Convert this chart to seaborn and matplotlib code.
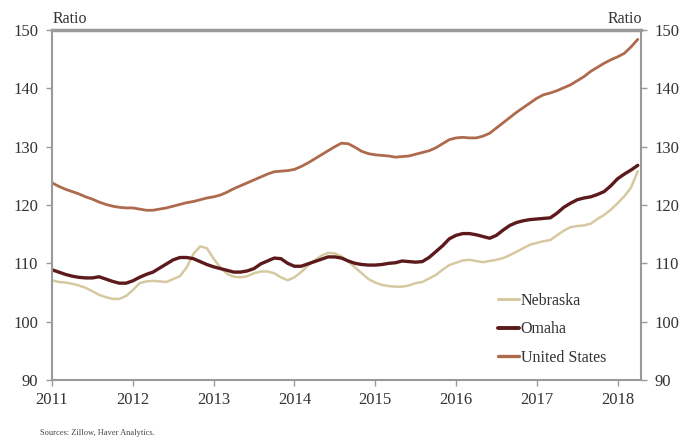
import numpy as np
import pandas as pd
import matplotlib
matplotlib.use("Agg")
import matplotlib.pyplot as plt
import seaborn as sns

# Monthly ratios, January 2011 through April 2018
start_year = 2011
united_states = [
    123.8, 123.2, 122.7, 122.3, 121.9, 121.4, 121.0, 120.5, 120.1, 119.8, 119.6, 119.5,
    119.5, 119.3, 119.1, 119.1, 119.3, 119.5, 119.8, 120.1, 120.4, 120.6, 120.9, 121.2,
    121.4, 121.7, 122.2, 122.8, 123.3, 123.8, 124.3, 124.8, 125.3, 125.7, 125.8, 125.9,
    126.1, 126.6, 127.2, 127.9, 128.6, 129.3, 130.0, 130.6, 130.5, 129.9, 129.2, 128.8,
    128.6, 128.5, 128.4, 128.2, 128.3, 128.4, 128.7, 129.0, 129.3, 129.8, 130.5, 131.2,
    131.5, 131.6, 131.5, 131.5, 131.8, 132.3, 133.2, 134.1, 135.0, 135.9, 136.7, 137.5,
    138.3, 138.9, 139.2, 139.6, 140.1, 140.6, 141.3, 142.0, 142.9, 143.6, 144.3, 144.9,
    145.4, 146.0, 147.1, 148.4,
]
omaha = [
    108.9, 108.5, 108.1, 107.8, 107.6, 107.5, 107.5, 107.7, 107.3, 106.9, 106.6, 106.6,
    107.0, 107.6, 108.1, 108.5, 109.2, 109.9, 110.6, 111.0, 111.0, 110.8, 110.3, 109.8,
    109.4, 109.1, 108.8, 108.5, 108.5, 108.7, 109.1, 109.9, 110.4, 110.9, 110.8, 110.0,
    109.5, 109.5, 109.9, 110.3, 110.7, 111.1, 111.1, 110.9, 110.4, 110.0, 109.8, 109.7,
    109.7, 109.8, 110.0, 110.1, 110.4, 110.3, 110.2, 110.3, 111.0, 112.0, 113.0, 114.2,
    114.8, 115.1, 115.1, 114.9, 114.6, 114.3, 114.8, 115.7, 116.5, 117.0, 117.3, 117.5,
    117.6, 117.7, 117.8, 118.6, 119.6, 120.3, 120.9, 121.2, 121.4, 121.8, 122.3, 123.3,
    124.5, 125.3, 126.0, 126.8,
]
nebraska = [
    107.1, 106.8, 106.7, 106.5, 106.2, 105.8, 105.2, 104.6, 104.2, 103.9, 103.9, 104.4,
    105.4, 106.6, 106.9, 107.0, 106.9, 106.8, 107.3, 107.8, 109.3, 111.6, 112.9, 112.6,
    110.8, 109.3, 108.2, 107.7, 107.6, 107.8, 108.3, 108.6, 108.6, 108.3, 107.6, 107.1,
    107.6, 108.5, 109.6, 110.5, 111.3, 111.8, 111.7, 111.2, 110.3, 109.3, 108.3, 107.3,
    106.7, 106.3, 106.1, 106.0, 106.0, 106.2, 106.6, 106.8, 107.4, 108.0, 108.9, 109.7,
    110.1, 110.5, 110.6, 110.4, 110.2, 110.4, 110.6, 110.9, 111.4, 112.0, 112.6, 113.2,
    113.5, 113.8, 114.0, 114.8, 115.6, 116.2, 116.4, 116.5, 116.8, 117.6, 118.3, 119.2,
    120.3, 121.5, 123.0, 125.8,
]
series_names = ["Nebraska", "Omaha", "United States"]
year_ticks = [2011, 2012, 2013, 2014, 2015, 2016, 2017, 2018]
ratio_ticks = [90, 100, 110, 120, 130, 140, 150]

n = len(united_states)
t = start_year + np.arange(n) / 12.0
df = pd.concat([
    pd.DataFrame({"t": t, "ratio": nebraska, "series": "Nebraska"}),
    pd.DataFrame({"t": t, "ratio": omaha, "series": "Omaha"}),
    pd.DataFrame({"t": t, "ratio": united_states, "series": "United States"}),
], ignore_index=True)

sns.set_theme(style="white")
plt.rcParams["font.family"] = ["Liberation Serif", "DejaVu Serif"]

palette = {"Nebraska": "#d6c9a2", "Omaha": "#5c1a1c", "United States": "#ad6a4c"}
widths = {"Nebraska": 1.8, "Omaha": 2.4, "United States": 2.0}

fig = plt.figure(figsize=(6.87, 4.43), dpi=100)
ax = fig.add_axes([52 / 687, 1 - 380 / 443, (641 - 52) / 687, (380 - 30) / 443])

sns.lineplot(data=df, x="t", y="ratio", hue="series", hue_order=series_names,
             palette=palette, ax=ax, legend=False, estimator=None)
for line, name in zip(ax.get_lines(), series_names):
    line.set_linewidth(widths[name])

ax.set_xlim(2011, 2011 + (641 - 52) / 80.8)
ax.set_ylim(90, 150)
ax.set_xticks(year_ticks)
ax.set_xticklabels([str(y) for y in year_ticks])
ax.set_yticks(ratio_ticks)
ax.set_xlabel("")
ax.set_ylabel("")

grey = "#9a9a9a"
for side in ["left", "right", "bottom"]:
    ax.spines[side].set_visible(True)
    ax.spines[side].set_color(grey)
    ax.spines[side].set_linewidth(1.5)
ax.spines["top"].set_visible(True)
ax.spines["top"].set_color(grey)
ax.spines["top"].set_linewidth(2.5)

ax.tick_params(axis="y", left=True, right=True, labelleft=True, labelright=True,
               direction="out", length=4, width=1, color=grey,
               labelsize=12, labelcolor="#333333", pad=6)
ax.tick_params(axis="x", bottom=True, direction="out", length=4, width=1,
               color=grey, labelsize=12, labelcolor="#333333", pad=5)

fig.text(53 / 687, 1 - 19 / 443, "Ratio", fontsize=11.5, color="#333333",
         ha="left", va="center")
fig.text(642 / 687, 1 - 19 / 443, "Ratio", fontsize=11.5, color="#333333",
         ha="right", va="center")
fig.text(40 / 687, 1 - 433 / 443, "Sources: Zillow, Haver Analytics.", fontsize=6,
         color="#444444", ha="left", va="center")

handles = [plt.Line2D([], [], color=palette[s], lw=widths[s] + 0.4) for s in series_names]
ax.legend(handles, series_names, loc="lower right", bbox_to_anchor=(0.965, 0.0),
          frameon=False, fontsize=11.5, handlelength=1.3, handletextpad=0.1,
          labelspacing=0.78, labelcolor="#333333")

fig.savefig("out.png", dpi=100)
